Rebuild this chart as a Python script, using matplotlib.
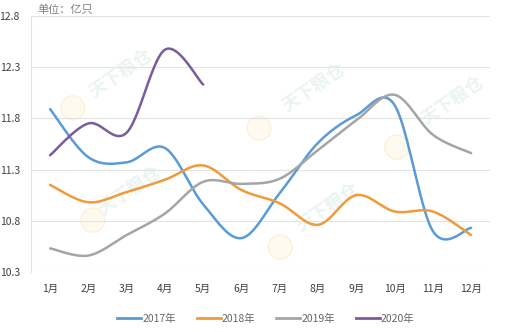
import numpy as np
import matplotlib
matplotlib.use("Agg")
import matplotlib.pyplot as plt
from matplotlib.lines import Line2D
from matplotlib.patches import Circle

plt.rcParams['font.family'] = ['Noto Sans CJK SC', 'DejaVu Sans']

months = ['1月', '2月', '3月', '4月', '5月', '6月', '7月', '8月', '9月', '10月', '11月', '12月']
y2017 = [11.89, 11.42, 11.37, 11.51, 10.96, 10.63, 11.07, 11.56, 11.83, 11.93, 10.70, 10.73]
y2018 = [11.15, 10.98, 11.08, 11.20, 11.34, 11.10, 10.97, 10.76, 11.05, 10.89, 10.89, 10.66]
y2019 = [10.53, 10.46, 10.66, 10.87, 11.18, 11.16, 11.21, 11.49, 11.78, 12.03, 11.64, 11.46]
y2020 = [11.44, 11.75, 11.66, 12.47, 12.13]
series_names = ['2017年', '2018年', '2019年', '2020年']
series_values = [y2017, y2018, y2019, y2020]
colors = ['#5B9BD5', '#EF9B3C', '#A5A5A5', '#7B5C9B']
yticks = [10.3, 10.8, 11.3, 11.8, 12.3, 12.8]
unit_label = '单位：亿只'
watermark = '天下粮仓'


def smooth(xs, ys, n=30):
    """Catmull-Rom style Bezier smoothing through every point."""
    xs = np.asarray(xs, float)
    ys = np.asarray(ys, float)
    pts = np.column_stack([xs, ys])
    m = len(pts)
    out = []
    for i in range(m - 1):
        p0 = pts[i - 1] if i > 0 else pts[i]
        p1 = pts[i]
        p2 = pts[i + 1]
        p3 = pts[i + 2] if i + 2 < m else pts[i + 1]
        c1 = p1 + (p2 - p0) / 6.0
        c2 = p2 - (p3 - p1) / 6.0
        t = np.linspace(0, 1, n, endpoint=(i == m - 2))[:, None]
        seg = ((1 - t) ** 3) * p1 + 3 * ((1 - t) ** 2) * t * c1 + 3 * (1 - t) * t ** 2 * c2 + t ** 3 * p2
        out.append(seg)
    out = np.vstack(out)
    return out[:, 0], out[:, 1]


fig = plt.figure(figsize=(5.16, 3.32), dpi=100)

# faint watermark stamps: (text centre, logo centre) in figure fractions
stamps = [((0.233, 0.780), (0.141, 0.675)),
          ((0.252, 0.428), (0.180, 0.337)),
          ((0.607, 0.738), (0.502, 0.614)),
          ((0.878, 0.699), (0.769, 0.557)),
          ((0.634, 0.377), (0.543, 0.256))]
for (tx, ty), (lx, ly) in stamps:
    fig.text(tx, ty, watermark, fontsize=13, color='#EAF4F2',
             rotation=35, ha='center', va='center', fontweight='bold', zorder=0)
    fig.patches.append(Circle((lx * 516, ly * 332), 12, transform=None,
                              facecolor='#FEFAF0', edgecolor='#FCF1DA', lw=1.0, zorder=0))

ax = fig.add_axes([0.060, 0.181, 0.890, 0.771], zorder=1)

for name, vals, c in zip(series_names, series_values, colors):
    xs = np.arange(len(vals))
    sx, sy = smooth(xs, vals)
    ax.plot(sx, sy, color=c, lw=1.8, solid_capstyle='round', zorder=3)

ax.set_xlim(-0.5, len(months) - 0.5)
ax.set_ylim(yticks[0], yticks[-1])
ax.set_yticks(yticks)
ax.set_yticklabels([f'{v:.1f}' for v in yticks])
ax.set_xticks(np.arange(len(months)))
ax.set_xticklabels(months)
ax.tick_params(axis='both', length=0, labelsize=7.5, colors='#404040')
ax.tick_params(axis='x', pad=9)
ax.tick_params(axis='y', pad=8)
ax.grid(axis='y', color='#E3E3E3', lw=0.8)
ax.set_axisbelow(True)
for s in ['top', 'right', 'bottom']:
    ax.spines[s].set_visible(False)
ax.spines['left'].set_color('#E3E3E3')
ax.spines['left'].set_linewidth(0.8)
ax.patch.set_alpha(0)

fig.text(0.072, 0.972, unit_label, fontsize=8, color='#808080', ha='left', va='center')

handles = [Line2D([0], [0], color=c, lw=2) for c in colors]
fig.legend(handles, series_names, loc='center', bbox_to_anchor=(0.515, 0.04), ncol=4,
           frameon=False, fontsize=7.5, handlelength=2.3, handletextpad=0.1,
           columnspacing=2.0, labelcolor='#666666')

fig.savefig('out.png', dpi=100)
